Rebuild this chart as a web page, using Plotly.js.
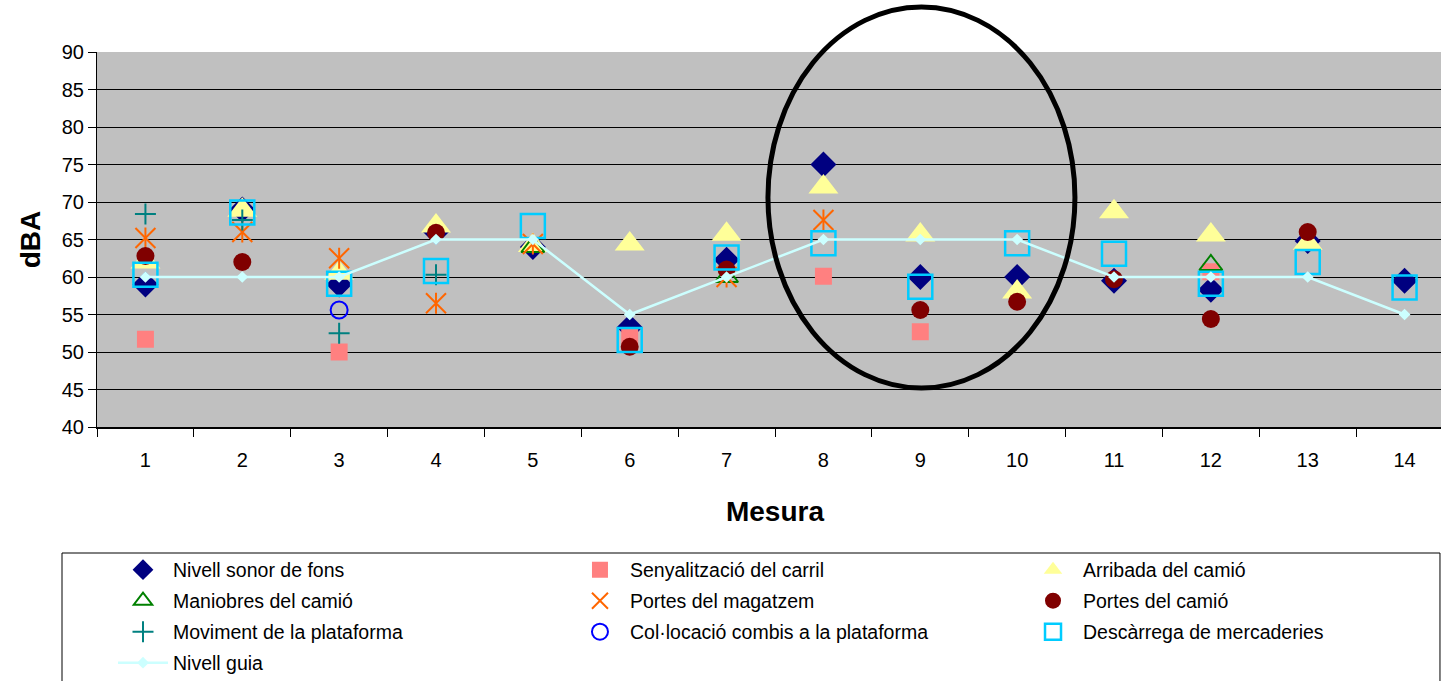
<!DOCTYPE html>
<html>
<head>
<meta charset="utf-8">
<script src="https://cdn.plot.ly/plotly-3.0.1.min.js"></script>
<style>
  html, body { margin: 0; padding: 0; overflow: hidden; background: #fff; }
  #chart { width: 1453px; height: 681px; }
</style>
</head>
<body>
<div id="chart"></div>
<script>
// ---- data ----
const categories = ['1','2','3','4','5','6','7','8','9','10','11','12','13','14'];
const nivellSonor    = [59, 69, 59, 66, 64, 53.3, 62.3, 75, 60, 60, 59.5, 58.3, 64.8, 59.5];
const senyalitzacio  = [51.7, null, 50, null, null, 52, null, 60.1, 52.7, null, null, 60.7, null, null];
const arribada       = [62, 68.9, 60.5, 66.8, 64.2, 64.4, 65.7, 72, 65.6, 58, 68.7, 65.6, 64.5, null];
const maniobres      = [null, null, null, null, 64, null, 60, null, null, null, null, 61.6, null, null];
const portesMagatzem = [65.2, 66, 62.5, 56.5, 64.4, null, 60, 67.6, null, null, null, null, null, null];
const portesCamio    = [62.8, 62, null, 65.9, null, 50.7, 61, null, 55.6, 56.7, 59.7, 54.4, 66, null];
const moviment       = [68.4, 67.6, 52.5, 60.3, null, null, null, null, null, null, null, null, null, null];
const collocacio     = [null, null, 55.6, null, null, null, null, null, null, null, null, null, null, null];
const descarrega     = [60.3, 68.6, 59.1, 60.8, 66.8, 51.6, 62.6, 64.5, 58.7, 64.5, 63.1, 59.1, 62, 58.6];
const nivellGuia     = [60, 60, 60, 65, 65, 55, 60, 65, 65, 65, 60, 60, 60, 55];
const yTicks = [40, 45, 50, 55, 60, 65, 70, 75, 80, 85, 90];

const seriesNames = [
  'Nivell sonor de fons', 'Senyalització del carril', 'Arribada del camió',
  'Maniobres del camió', 'Portes del magatzem', 'Portes del camió',
  'Moviment de la plataforma', 'Col·locació combis a la plataforma', 'Descàrrega de mercaderies',
  'Nivell guia'
];

// ---- styling ----
const sans = 'Liberation Sans, Arial, sans-serif';

function mk(name, y, legendId, marker, extra) {
  return Object.assign({
    type: 'scatter', mode: 'markers', name: name, x: categories, y: y,
    legend: legendId, marker: marker, cliponaxis: false, hoverinfo: 'x+y+name'
  }, extra || {});
}

const traces = [
  mk(seriesNames[0], nivellSonor, 'legend', {symbol: 'diamond', size: 20, color: '#000080'}),
  mk(seriesNames[1], senyalitzacio, 'legend4', {symbol: 'square', size: 17, color: '#FF8080'}),
  mk(seriesNames[2], arribada, 'legend7', {symbol: 'triangle-up', size: 26, color: '#FFFF99'}),
  mk(seriesNames[3], maniobres, 'legend2', {symbol: 'triangle-up-open', size: 20, color: '#008000', line: {color: '#008000', width: 2}}),
  mk(seriesNames[4], portesMagatzem, 'legend5', {symbol: 'x-thin-open', size: 20, color: '#FF6600', line: {color: '#FF6600', width: 2}}),
  mk(seriesNames[4], portesMagatzem, 'legend5', {symbol: 'line-ns-open', size: 15, color: '#FF6600', line: {color: '#FF6600', width: 2}}, {showlegend: false}),
  mk(seriesNames[5], portesCamio, 'legend8', {symbol: 'circle', size: 18, color: '#800000'}),
  mk(seriesNames[6], moviment, 'legend3', {symbol: 'cross-thin-open', size: 15, color: '#008080', line: {color: '#008080', width: 2}}),
  mk(seriesNames[7], collocacio, 'legend6', {symbol: 'circle-open', size: 17, color: '#0000FF', line: {color: '#0000FF', width: 2}}),
  mk(seriesNames[8], descarrega, 'legend9', {symbol: 'square-open', size: 24, color: '#00CCFF', line: {color: '#00CCFF', width: 2.5}}),
  mk(seriesNames[9], nivellGuia, 'legend10', {symbol: 'diamond', size: 9, color: '#CCFFFF'}, {mode: 'lines+markers', line: {color: '#CCFFFF', width: 2.5}})
];

// legend placement: columns x, rows y (paper)
const colX = [0.0118, 0.3488, 0.6829];
const rowY = [-0.3813, -0.464, -0.5467, -0.6293];
function legendBox(col, row) {
  return {
    x: colX[col], y: rowY[row], xanchor: 'left', yanchor: 'middle',
    orientation: 'v', bgcolor: 'rgba(0,0,0,0)', borderwidth: 0,
    itemwidth: 50, font: {family: sans, size: 19.5, color: '#000'}
  };
}

const layout = {
  width: 1453, height: 681,
  margin: {l: 97, r: 0, t: 52, b: 254, autoexpand: false},
  paper_bgcolor: '#FFFFFF',
  plot_bgcolor: '#C0C0C0',
  showlegend: true,
  xaxis: {
    type: 'category', range: [-0.5, 13.5], tickson: 'boundaries',
    ticks: 'outside', ticklen: 8, tickwidth: 1, tickcolor: '#000',
    showline: true, linecolor: '#000', linewidth: 1.5, showgrid: false,
    tickfont: {family: sans, size: 20, color: '#000'}, ticklabelstandoff: 14,
    title: {text: 'Mesura', font: {family: sans, size: 28, color: '#000', weight: 'bold'}, standoff: 32},
    fixedrange: true
  },
  yaxis: {
    range: [40, 90], tickvals: yTicks, ticktext: yTicks.map(String),
    ticks: 'outside', ticklen: 8, tickwidth: 1, tickcolor: '#000',
    showline: true, linecolor: '#000', linewidth: 1, showgrid: true, gridcolor: '#000', gridwidth: 1,
    zeroline: false,
    tickfont: {family: sans, size: 20, color: '#000'},
    title: {text: 'dBA', font: {family: sans, size: 28, color: '#000', weight: 'bold'}, standoff: 12},
    fixedrange: true
  },
  legend: legendBox(0, 0),
  legend2: legendBox(0, 1),
  legend3: legendBox(0, 2),
  legend10: legendBox(0, 3),
  legend4: legendBox(1, 0),
  legend5: legendBox(1, 1),
  legend6: legendBox(1, 2),
  legend7: legendBox(2, 0),
  legend8: legendBox(2, 1),
  legend9: legendBox(2, 2),
  shapes: [
    {type: 'rect', xref: 'paper', yref: 'paper', x0: -0.0258, x1: 0.9904, y0: -0.336, y1: -0.72,
     line: {color: '#000', width: 1}, fillcolor: 'rgba(0,0,0,0)', layer: 'above'},
    {type: 'circle', xref: 'paper', yref: 'paper', x0: 0.4948, x1: 0.7212, y0: 0.104, y1: 1.12,
     line: {color: '#000', width: 5}, fillcolor: 'rgba(0,0,0,0)', layer: 'above'}
  ]
};

Plotly.newPlot('chart', traces, layout, {displayModeBar: false, staticPlot: true});
</script>
</body>
</html>
